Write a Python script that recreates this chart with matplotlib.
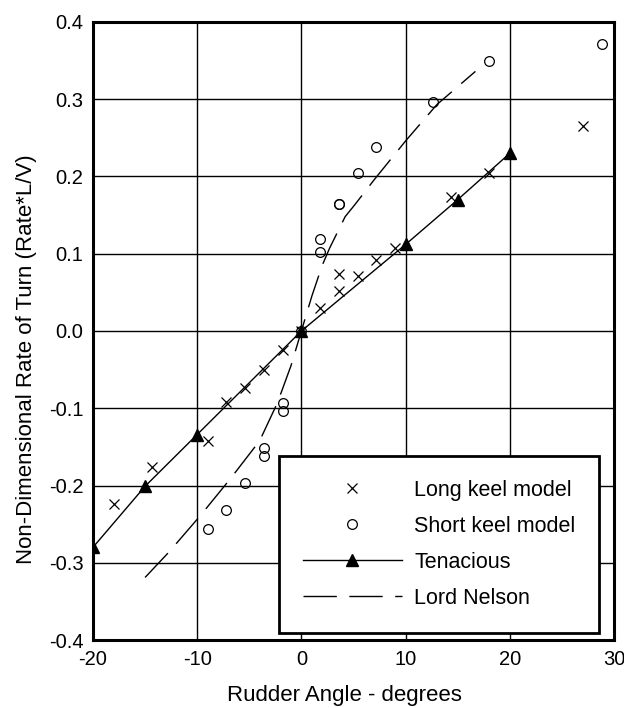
import numpy as np
import matplotlib.pyplot as plt

plt.rcParams['font.family'] = ['Liberation Sans', 'DejaVu Sans']
plt.rcParams['axes.unicode_minus'] = False

# Long keel model (crosses)
long_x = [-18, -14.3, -9, -7.2, -5.4, -3.6, -1.8, 0, 1.8, 3.6, 3.6, 5.4, 7.2, 9, 14.4, 18, 27]
long_y = [-0.224, -0.176, -0.142, -0.092, -0.074, -0.051, -0.024, 0, 0.030, 0.052, 0.074, 0.071, 0.092, 0.107, 0.174, 0.204, 0.265]

# Short keel model (circles)
short_x = [-9, -7.2, -5.4, -3.6, -3.6, -1.8, -1.8, 0, 1.8, 1.8, 3.6, 3.6, 5.4, 7.2, 12.6, 18, 28.8]
short_y = [-0.256, -0.232, -0.197, -0.151, -0.162, -0.093, -0.103, 0, 0.102, 0.119, 0.165, 0.165, 0.204, 0.238, 0.297, 0.350, 0.371]

# Tenacious (line + triangles)
ten_x = [-20, -15, -10, 0, 10, 15, 20]
ten_y = [-0.280, -0.201, -0.134, 0, 0.112, 0.170, 0.230]

# Lord Nelson (dashed curve)
nel_x = [-15, -12.7, -9.7, -6.8, -4.0, -2.3, -1.0, 0, 1.0, 2.0, 2.7, 4.2, 5.1, 7.0, 10.0, 13.0, 16.7]
nel_y = [-0.319, -0.286, -0.239, -0.191, -0.142, -0.093, -0.045, 0, 0.045, 0.085, 0.107, 0.148, 0.163, 0.196, 0.246, 0.293, 0.336]

yticks = [-0.4, -0.3, -0.2, -0.1, 0.0, 0.1, 0.2, 0.3, 0.4]
ytick_labels = ['-0.4', '-0.3', '-0.2', '-0.1', '0.0', '0.1', '0.2', '0.3', '0.4']

fig = plt.figure(figsize=(6.24, 7.08), dpi=100)
ax = fig.add_axes([0.149, 0.096, 0.835, 0.873])

ax.plot(ten_x, ten_y, color='black', lw=1.0, marker='^', ms=8, mfc='black', mec='black',
        label='Tenacious', zorder=4)
ax.plot(nel_x, nel_y, color='black', lw=1.0, dashes=(24, 9), label='Lord Nelson', zorder=3)
ax.plot(long_x, long_y, ls='none', marker='x', ms=7, mew=0.9, color='black',
        label='Long keel model', zorder=5)
ax.plot(short_x, short_y, ls='none', marker='o', ms=7, mew=0.9, mfc='none', mec='black',
        label='Short keel model', zorder=5)

ax.set_xlim(-20, 30)
ax.set_ylim(-0.4, 0.4)
ax.set_xticks([-20, -10, 0, 10, 20, 30])
ax.set_yticks(yticks)
ax.set_yticklabels(ytick_labels)
ax.grid(True, color='black', lw=1.0)
ax.set_axisbelow(True)
ax.tick_params(length=0, labelsize=14.5, pad=7)
for s in ax.spines.values():
    s.set_linewidth(2.2)

ax.set_xlabel('Rudder Angle - degrees', fontsize=16)
ax.set_ylabel('Non-Dimensional Rate of Turn (Rate*L/V)', fontsize=16)
ax.xaxis.set_label_coords(0.483, -0.072)
ax.yaxis.set_label_coords(-0.108, 0.455)

h, l = ax.get_legend_handles_labels()
order = [2, 3, 0, 1]
leg = ax.legend([h[i] for i in order], [l[i] for i in order], loc='lower right',
                bbox_to_anchor=(0.972, 0.012), borderaxespad=0, fontsize=15.5,
                fancybox=False, framealpha=1, edgecolor='black',
                handlelength=4.6, handletextpad=0.6, labelspacing=0.7, borderpad=1.1)
leg.get_frame().set_linewidth(2.0)

fig.savefig('out.png', dpi=100)
